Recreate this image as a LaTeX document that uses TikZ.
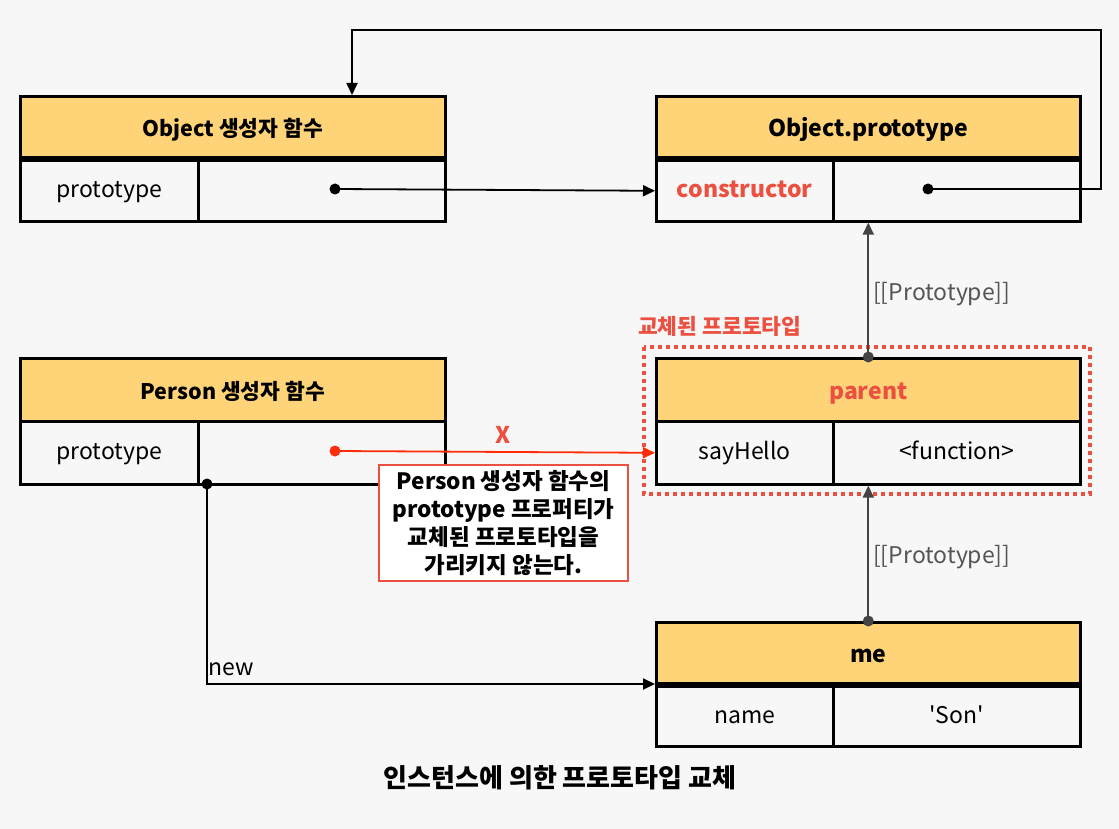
\documentclass[tikz,border=0pt]{standalone}
\usepackage{fontspec}
\setmainfont{Noto Sans CJK KR}[Ligatures=TeXOff]
\usetikzlibrary{arrows.meta}
\definecolor{bgc}{HTML}{F7F7F7}
\definecolor{hdr}{HTML}{FFD479}
\definecolor{redtxt}{HTML}{EC5040}
\definecolor{redarr}{HTML}{FF2D0A}
\definecolor{grayarr}{HTML}{444444}
\definecolor{graytxt}{HTML}{555555}
\tikzset{
  hdrbox/.style={draw, line width=2.6pt, fill=hdr, inner sep=0pt, anchor=north west,
    text height=21pt, text depth=2pt,
    font=\bfseries\fontsize{23}{27}\selectfont},
  cellbox/.style={draw, line width=2.6pt, fill=bgc, inner sep=0pt, anchor=north west,
    text height=18pt, text depth=4.5pt,
    minimum height=61pt, font=\fontsize{23}{27}\selectfont},
  dotst/.style={circle, fill=#1, inner sep=0pt, minimum size=11pt},
  dotst/.default=black,
  conn/.style={line width=1.8pt, -{Triangle[length=12pt,width=11pt]}},
  gconn/.style={line width=1.8pt, draw=grayarr, -{Triangle[length=12pt,width=11pt]}},
  rconn/.style={line width=1.8pt, draw=redarr, -{Triangle[length=12pt,width=11pt]}},
  lbl/.style={inner sep=0pt, font=\fontsize{23}{27}\selectfont},
  korhdr/.style={font=\bfseries\fontsize{21.5}{26}\selectfont},
}
\begin{document}
\begin{tikzpicture}[x=1pt,y=-1pt]
\fill[bgc] (0,0) rectangle (1119,829);
\useasboundingbox (0,0) rectangle (1119,829);

% replaced prototype dotted frame
\draw[draw=redtxt, line width=4pt, dash pattern=on 4pt off 4pt] (644,347) rectangle (1090,494);
\node[lbl, anchor=west, text=redtxt, font=\bfseries\fontsize{21.5}{25}\selectfont] (replbl) at (638,326) {교체된 프로토타입};

% Object constructor
\node[hdrbox, korhdr, minimum width=425pt, minimum height=61pt] (objh) at (19,95) {Object 생성자 함수};
\node[cellbox, minimum width=178pt] (objk) at (19,159) {prototype};
\node[cellbox, minimum width=247pt] (objv) at (197,159) {};

% Object.prototype
\node[hdrbox, minimum width=424pt, minimum height=61pt] (oph) at (655,95) {Object.prototype};
\node[cellbox, minimum width=177pt, text=redtxt, font=\bfseries\fontsize{23}{27}\selectfont] (opk) at (655,159) {constructor};
\node[cellbox, minimum width=247pt] (opv) at (832,159) {};

% Person constructor
\node[hdrbox, korhdr, minimum width=425pt, minimum height=63pt] (perh) at (19,357) {Person 생성자 함수};
\node[cellbox, minimum width=178pt, minimum height=63pt] (perk) at (19,420) {prototype};
\node[cellbox, minimum width=247pt, minimum height=63pt] (perv) at (197,420) {};

% parent
\node[hdrbox, minimum width=424pt, minimum height=63pt, text=redtxt] (parh) at (655,357) {parent};
\node[cellbox, minimum width=177pt, minimum height=63pt] (park) at (655,420) {sayHello};
\node[cellbox, minimum width=247pt, minimum height=63pt] (parv) at (832,420) {<function>};

% me
\node[hdrbox, minimum width=424pt, minimum height=61pt] (meh) at (655,621) {me};
\node[cellbox, minimum width=177pt, minimum height=60pt] (mek) at (655,685) {name};
\node[cellbox, minimum width=247pt, minimum height=60pt] (mev) at (832,685) {'Son'};

% dots
\node[dotst] (objd) at (335,189) {};
\node[dotst] (opd) at (928,189) {};
\node[dotst=redarr] (perd) at (335,451) {};
\node[dotst] (newd) at (207,484) {};

% loop from Object.prototype.constructor to Object constructor
\coordinate (lpa) at (1101,189);
\coordinate (lpb) at (1101,30);
\coordinate (lpc) at (352,30);
\draw[conn] (opd.center) -- (lpa) -- (lpb) -- (lpc) -- (lpc |- objh.north);

% Object.prototype property -> Object.prototype
\draw[conn] (objd.center) -- (opk.west);

% parent [[Prototype]] -> Object.prototype
\draw[gconn] (parh.north) -- (parh.north |- opv.south);
\node[dotst=grayarr] (pard) at (parh.north) {};
\node[lbl, anchor=west, text=graytxt] (pl1) at (873,294) {[[Prototype]]};

% me [[Prototype]] -> parent
\draw[gconn] (meh.north) -- (meh.north |- parv.south);
\node[dotst=grayarr] (med) at (meh.north) {};
\node[lbl, anchor=west, text=graytxt] (pl2) at (873,557) {[[Prototype]]};

% Person.prototype -> parent (red)
\draw[rconn] (perd.center) -- (park.west);
\node[lbl, text=redtxt, font=\bfseries\fontsize{23}{27}\selectfont] (xl) at (503,435) {X};

% callout
\node[draw=redtxt, line width=2pt, fill=white, minimum width=249pt, minimum height=116pt,
  inner sep=0pt, align=center, font=\bfseries\fontsize{22.5}{28}\selectfont] (note) at (503.5,523)
  {Person 생성자 함수의\\prototype 프로퍼티가\\교체된 프로토타입을\\가리키지 않는다.};

% new
\coordinate (menew) at (655,684);
\draw[conn] (newd.center) -- (newd.center |- menew) -- (menew);
\node[lbl, anchor=west] (newl) at (208,669) {new};

% caption
\node[lbl, font=\bfseries\fontsize{26}{30}\selectfont] (cap) at (560,778) {인스턴스에 의한 프로토타입 교체};
\end{tikzpicture}
\end{document}
